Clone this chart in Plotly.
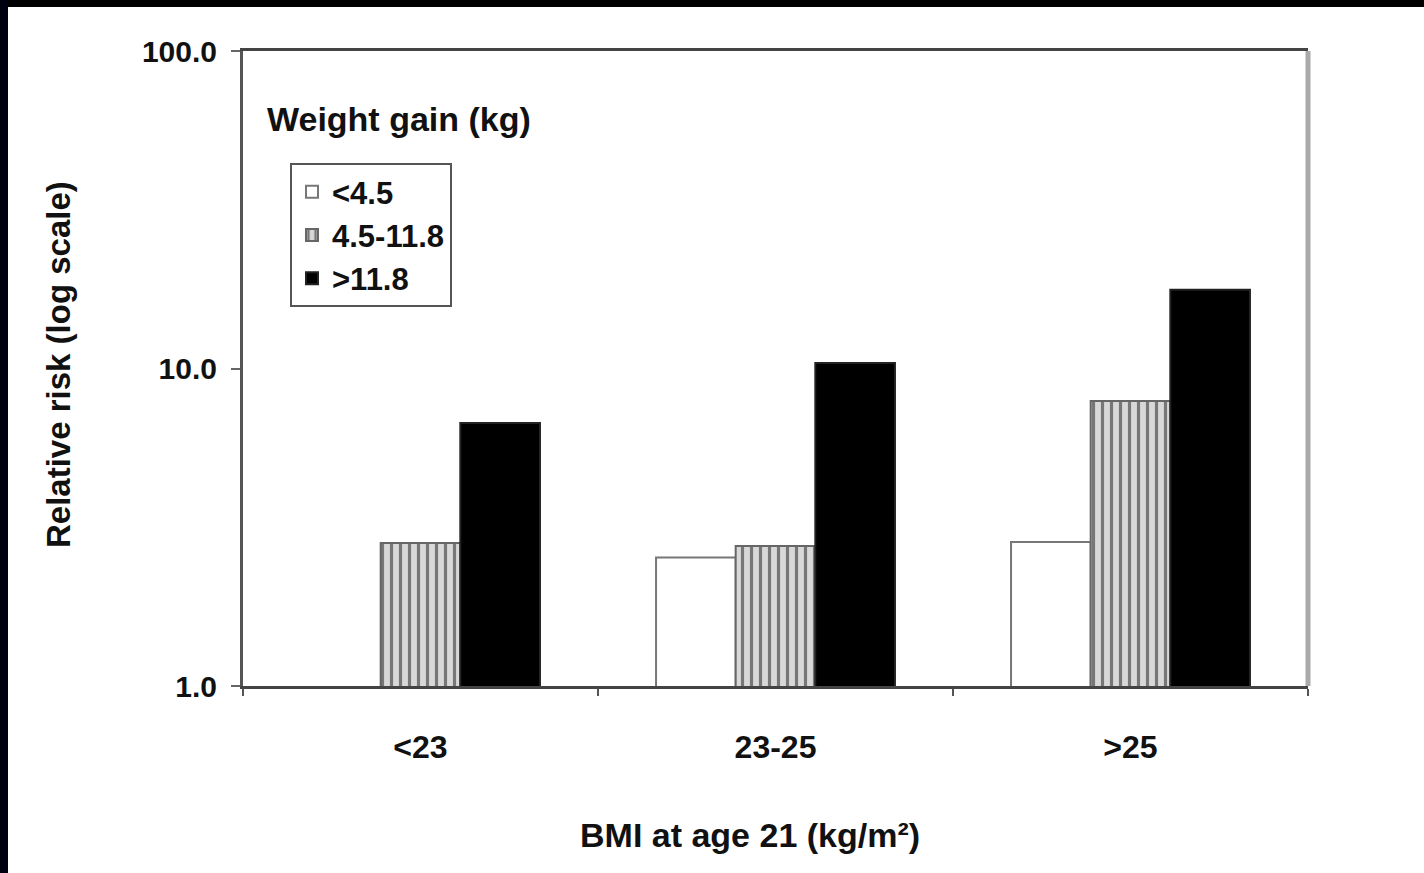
import plotly.graph_objects as go

categories = ["<23", "23-25", ">25"]
gain_low = [None, 2.54, 2.84]      # <4.5 kg
gain_mid = [2.82, 2.76, 7.9]       # 4.5-11.8 kg
gain_high = [6.73, 10.4, 17.7]     # >11.8 kg
series_names = ["<4.5", "4.5-11.8", ">11.8"]
y_tickvals = [1, 10, 100]
y_ticktext = ["1.0", "10.0", "100.0"]

W, H = 1424, 873
L, R, T, B = 243, 1308, 51, 686
pw, ph = R - L, B - T

def px(x):
    return (x - L) / pw

def py(y):
    return (B - y) / ph

FONT = "Liberation Sans, Arial, sans-serif"

fig = go.Figure()
fig.add_trace(go.Bar(
    x=categories, y=gain_low, name=series_names[0], legendgroup="a",
    marker=dict(color="white", line=dict(color="#777", width=2)),
))
fig.add_trace(go.Bar(
    x=categories, y=gain_mid, name=series_names[1], legendgroup="b",
    marker=dict(color="#d4d4d4", line=dict(color="#666", width=2),
                pattern=dict(shape="|", fgcolor="#777", bgcolor="#d8d8d8",
                             size=9, solidity=0.35, fillmode="replace")),
))
fig.add_trace(go.Bar(
    x=categories, y=gain_high, name=series_names[2], legendgroup="c",
    marker=dict(color="black", line=dict(color="#222", width=2)),
))

fig.update_layout(
    width=W, height=H, autosize=False,
    margin=dict(l=L, r=W - R, t=T, b=H - B),
    paper_bgcolor="white", plot_bgcolor="white",
    barmode="group", bargap=0.327, bargroupgap=0,
    font=dict(family=FONT, size=30, color="#111", weight="bold"),
    showlegend=True,
    legend=dict(
        x=px(290), y=py(163), xanchor="left", yanchor="top",
        bgcolor="white", bordercolor="#555", borderwidth=2,
        font=dict(size=31, family=FONT, color="#111", weight="bold"),
        traceorder="grouped", tracegroupgap=0,
        itemclick=False,
    ),
    xaxis=dict(
        type="category", showline=True, linecolor="#444", linewidth=3,
        mirror=True, ticks="outside", ticklen=7, tickwidth=2, tickcolor="#555",
        tickson="boundaries", ticklabelstandoff=31,
        tickfont=dict(size=32, family=FONT, color="#111", weight="bold"),
        showgrid=False, zeroline=False,
    ),
    yaxis=dict(
        type="log", range=[0, 2], showline=True, linecolor="#555", linewidth=3,
        ticks="outside", ticklen=9, tickwidth=2, tickcolor="#666",
        tickvals=y_tickvals, ticktext=y_ticktext, ticklabelstandoff=8,
        tickfont=dict(size=30, family=FONT, color="#111", weight="bold"),
        showgrid=False, zeroline=False,
    ),
    annotations=[
        dict(text="Weight gain (kg)", x=px(265), y=py(119), xref="paper", yref="paper",
             xanchor="left", yanchor="middle", showarrow=False,
             font=dict(size=34, family=FONT, color="#111", weight="bold")),
        dict(text="BMI at age 21 (kg/m²)", x=px(750), y=py(835), xref="paper", yref="paper",
             xanchor="center", yanchor="middle", showarrow=False,
             font=dict(size=34, family=FONT, color="#111", weight="bold")),
        dict(text="Relative risk (log scale)", x=px(58), y=py(365), xref="paper", yref="paper",
             xanchor="center", yanchor="middle", showarrow=False, textangle=-90,
             font=dict(size=33, family=FONT, color="#111", weight="bold")),
    ],
    shapes=[
        # right frame line (lighter)
        dict(type="line", xref="paper", yref="paper", x0=1, x1=1, y0=0, y1=1,
             line=dict(color="#aaa", width=5)),
        # black top stripe
        dict(type="rect", xref="paper", yref="paper", x0=px(-5), x1=px(W + 5),
             y0=py(7), y1=py(-5), fillcolor="black", line=dict(width=0), layer="above"),
        # dark left stripe
        dict(type="rect", xref="paper", yref="paper", x0=px(-5), x1=px(8),
             y0=py(H + 5), y1=py(-5), fillcolor="#000010", line=dict(width=0), layer="above"),
    ],
)

fig.write_html("out.html")
